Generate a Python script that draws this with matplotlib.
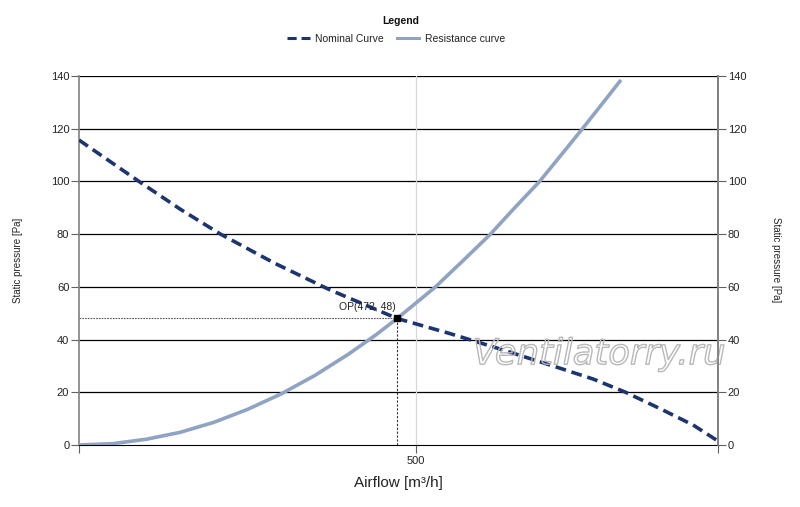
import matplotlib
matplotlib.use("Agg")
import matplotlib.pyplot as plt
import matplotlib.patheffects as pe
from matplotlib.lines import Line2D

plt.rcParams['font.family'] = ['Liberation Sans', 'DejaVu Sans']

# Data
nominal_x = [0, 89, 150, 210, 290, 371, 472, 550, 625, 714, 763, 810, 862, 911, 948]
nominal_y = [115.7, 100, 89.5, 80, 69, 59, 48, 42.3, 36.4, 29.1, 25.0, 20.1, 13.8, 7.6, 1.5]

resist_x = [0, 50, 100, 150, 200, 250, 300, 350, 400, 440, 472, 500, 528, 570, 610, 650, 683, 720, 750, 780, 804]
resist_y = [0, 0.5, 2.2, 4.8, 8.6, 13.5, 19.4, 26.4, 34.5, 41.7, 48, 53.9, 59.8, 70, 79.9, 91, 99.9, 111.5, 121.0, 130.7, 138.5]

op_x, op_y = 472, 48
y_ticks = [0, 20, 40, 60, 80, 100, 120, 140]
x_max = 948

fig = plt.figure(figsize=(8, 5.07), dpi=100)
ax = fig.add_axes([79/800, 62/507, (718-79)/800, (445-76)/507])

ax.set_xlim(0, x_max)
ax.set_ylim(0, 140)

# grid
for yv in y_ticks[1:]:
    ax.axhline(yv, color='black', lw=0.9, zorder=1)
ax.axvline(500, color='#d8d8d8', lw=0.9, zorder=1)

ax.plot(resist_x, resist_y, color='#8fa3c2', lw=2.6, zorder=3, solid_capstyle='butt')
ax.plot(nominal_x, nominal_y, color='#1c3570', lw=2.6, ls=(0, (3, 1.6)), zorder=4)

# operating point
ax.plot([0, op_x], [op_y, op_y], color='#555555', lw=0.8, ls=(0, (1.5, 1)), zorder=2)
ax.plot([op_x, op_x], [0, op_y], color='#333333', lw=0.8, ls=(0, (2, 1.5)), zorder=2)
ax.plot([op_x], [op_y], marker='s', color='black', ms=4, zorder=6)
ax.annotate(f"OP({op_x}, {op_y})", (op_x, op_y), xytext=(-1, 5), textcoords='offset points',
            ha='right', va='bottom', fontsize=7.5, color='#222222', zorder=7)

# watermark
ax.text((725-79)/639, 0.246, "Ventilatorry.ru", transform=ax.transAxes, ha='right', va='center',
        fontsize=25.5, style='italic', color=(1, 1, 1, 0), zorder=8, family='DejaVu Sans',
        path_effects=[pe.withStroke(linewidth=1.0, foreground='#b8b8b8')])

# spines
ax.spines['top'].set_visible(False)
ax.spines['left'].set_color('#808080')
ax.spines['right'].set_color('#808080')
ax.spines['bottom'].set_color('black')
ax.spines['left'].set_linewidth(1.2)
ax.spines['right'].set_linewidth(1.2)

ax.set_yticks(y_ticks)
ax.tick_params(axis='y', labelsize=8, length=6, width=0.8, color='#606060', pad=1, labelcolor='#222222')
ax.set_xticks([0, 500, x_max])
ax.set_xticklabels(['', '500', ''])
ax.tick_params(axis='x', labelsize=8, length=6, width=0.8, color='#606060', pad=2, labelcolor='#222222')

ax2 = ax.twinx()
ax2.set_ylim(0, 140)
ax2.set_yticks(y_ticks)
ax2.tick_params(axis='y', labelsize=8, length=6, width=0.8, color='#606060', pad=1, labelcolor='#222222')
for s in ['top', 'left', 'bottom']:
    ax2.spines[s].set_visible(False)
ax2.spines['right'].set_color('#808080')
ax2.spines['right'].set_linewidth(1.2)

fig.text(18/800, 1 - 260/507, "Static pressure [Pa]", rotation=90, ha='center', va='center',
         fontsize=7, color='#222222')
fig.text(776/800, 1 - 260/507, "Static pressure [Pa]", rotation=270, ha='center', va='center',
         fontsize=7, color='#222222')
fig.text(398/800, 1 - 483/507, "Airflow [m³/h]", ha='center', va='center', fontsize=11, color='#222222')

fig.text(401/800, 1 - 21/507, "Legend", ha='center', va='center', fontsize=7.5, fontweight='bold',
         color='#111111')
handles = [Line2D([], [], color='#1c3570', lw=2.2, ls=(0, (3, 1.6))),
           Line2D([], [], color='#8fa3c2', lw=2.2)]
leg = fig.legend(handles, ['Nominal Curve', 'Resistance curve'], loc='center',
                 bbox_to_anchor=(396/800, 1 - 39/507), ncol=2, frameon=False, fontsize=7.5,
                 handlelength=2.2, handletextpad=0.5, columnspacing=1.2, borderpad=0, labelspacing=0)
for t in leg.get_texts():
    t.set_color('#222222')

fig.savefig('out.png', dpi=100)
